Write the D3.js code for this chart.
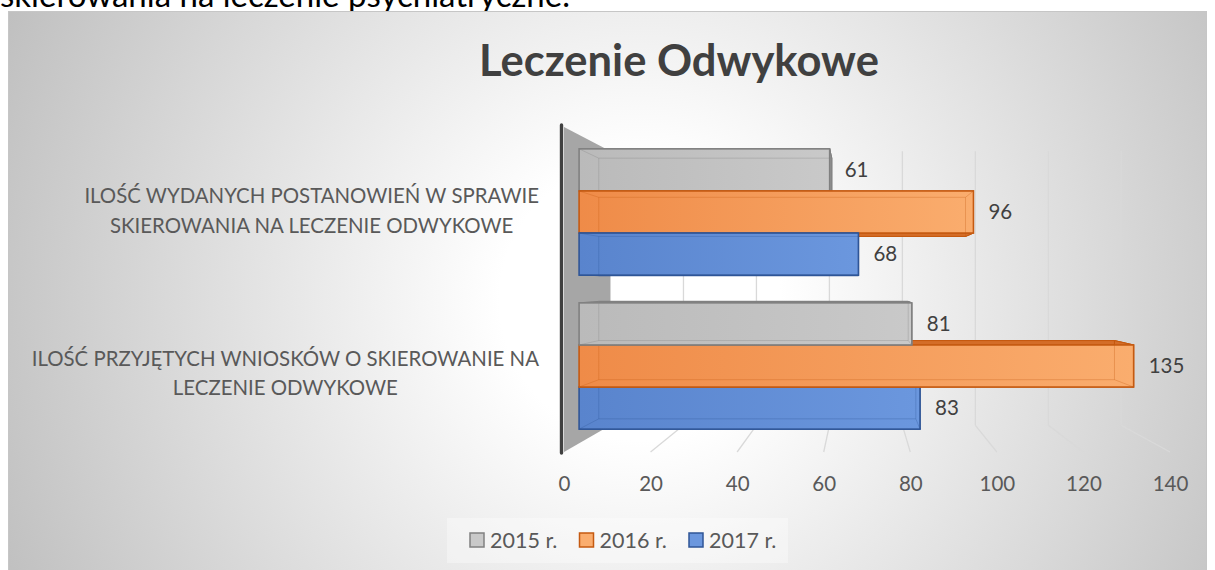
<!DOCTYPE html>
<html>
<head>
<meta charset="utf-8">
<script src="https://cdn.jsdelivr.net/npm/d3@7"></script>
<style>
  html, body { margin: 0; padding: 0; background: #fff; overflow: hidden; }
  svg { display: block; font-family: Lato, "Open Sans", sans-serif; }
</style>
</head>
<body>
<svg id="chart" width="1215" height="570"></svg>
<script>
// data
var pageText = "skierowania na leczenie psychiatryczne.";
var chartTitle = "Leczenie Odwykowe";
var categoryLines = [
    ["ILOŚĆ WYDANYCH POSTANOWIEŃ W SPRAWIE", "SKIEROWANIA NA LECZENIE ODWYKOWE"],
    ["ILOŚĆ PRZYJĘTYCH WNIOSKÓW O SKIEROWANIE NA", "LECZENIE ODWYKOWE"]
];
var seriesNames = ["2015 r.", "2016 r.", "2017 r."];
var values2015 = [61, 81];
var values2016 = [96, 135];
var values2017 = [68, 83];
var xTicks = [0, 20, 40, 60, 80, 100, 120, 140];

var seriesValues = [values2015, values2016, values2017];
var seriesFill = [["#bababa", "#c9c9c9"], ["#ef8b48", "#faad6e"], ["#5984cd", "#6b97de"]];
var seriesShade = ["#9c9c9c", "#d46d28", "#41689f"];
var seriesDark = ["#808080", "#c55a11", "#2f5597"];

var svg = d3.select("#chart");

// perspective: everything shrinks toward a vanishing point
var vp = [860, 282];
var project = function(p, s) {
    return [vp[0] + (p[0] - vp[0]) * s, vp[1] + (p[1] - vp[1]) * s];
};
var barPlane = 0.949, wallPlane = 0.843, barDepth = 0.93;
var ceilY = 127, floorY = 452;

var xFront = d3.scaleLinear().domain([0, 140]).range([564, 1170]);
var planeScale = function(s) {
    return d3.scaleLinear().domain(xFront.domain())
        .range(xFront.range().map(function(x) { return project([x, 0], s)[0]; }));
};
var xBar = planeScale(barPlane);
var xWall = planeScale(wallPlane);

var y = d3.scaleBand().domain(d3.range(categoryLines.length))
    .range([135, 443]).paddingInner(0.18).paddingOuter(0.09);
var ySeries = d3.scaleBand().domain(d3.range(seriesValues.length)).range([0, y.bandwidth()]);

// page text cut by the chart frame
svg.append("text")
    .attr("x", 0).attr("y", 7)
    .attr("fill", "#000")
    .style("font-size", "33px")
    .text(pageText);

var defs = svg.append("defs");
var bg = defs.append("radialGradient").attr("id", "bg")
    .attr("gradientUnits", "userSpaceOnUse")
    .attr("cx", 640).attr("cy", 300).attr("r", 700);
bg.append("stop").attr("offset", 0).attr("stop-color", "#ffffff");
bg.append("stop").attr("offset", 0.2).attr("stop-color", "#ffffff");
bg.append("stop").attr("offset", 1).attr("stop-color", "#bfbfbf");

seriesFill.forEach(function(c, i) {
    var lg = defs.append("linearGradient").attr("id", "fill" + i);
    lg.append("stop").attr("offset", 0).attr("stop-color", c[0]);
    lg.append("stop").attr("offset", 1).attr("stop-color", c[1]);
});

svg.append("rect")
    .attr("x", 8.5).attr("y", 11.5)
    .attr("width", 1198).attr("height", 580)
    .attr("fill", "url(#bg)")
    .attr("stroke", "#c6c6c6");

// title
svg.append("text")
    .attr("x", 679).attr("y", 76)
    .attr("text-anchor", "middle")
    .attr("fill", "#404040")
    .style("font-size", "43.5px").style("font-weight", "bold")
    .text(chartTitle);

// side wall
var wallTop = project([xFront(0), ceilY], wallPlane);
var wallBot = project([xFront(0), floorY], wallPlane);
svg.append("polygon")
    .attr("points", [[xFront(0), ceilY], wallTop, wallBot, [xFront(0), floorY]].join(" "))
    .attr("fill", "#a6a6a6");

// back wall and floor grid
var grid = svg.append("g").attr("class", "grid");
grid.selectAll(".wall-line")
    .data(xTicks.filter(function(d) { return d > 0; }))
  .enter()
    .append("line")
    .attr("class", "wall-line")
    .attr("x1", function(d) { return xWall(d); })
    .attr("x2", function(d) { return xWall(d); })
    .attr("y1", wallTop[1]).attr("y2", wallBot[1])
    .attr("stroke", "#d9d9d9").attr("stroke-width", 1.3);
grid.selectAll(".floor-line")
    .data(xTicks.filter(function(d) { return d > 0; }))
  .enter()
    .append("line")
    .attr("class", "floor-line")
    .attr("x1", function(d) { return xWall(d); })
    .attr("y1", wallBot[1])
    .attr("x2", function(d) { return xFront(d); })
    .attr("y2", floorY)
    .attr("stroke", "#d9d9d9").attr("stroke-width", 1.3);

// axis line at the wall's front edge
svg.append("line")
    .attr("x1", xFront(0) - 2.5).attr("x2", xFront(0) - 2.5)
    .attr("y1", ceilY - 2).attr("y2", floorY + 1)
    .attr("stroke", "#404040").attr("stroke-width", 3.4)
    .attr("stroke-linecap", "round");

// bars
var bars = [];
categoryLines.forEach(function(c, ci) {
    seriesValues.forEach(function(vals, si) {
        var y0 = y(ci) + ySeries(si);
        bars.push({ ci: ci, si: si, value: vals[ci],
            x0: xBar(0), x1: xBar(vals[ci]), y0: y0, y1: y0 + ySeries.bandwidth() });
    });
});
bars.sort(function(a, b) {
    return Math.abs((b.y0 + b.y1) / 2 - vp[1]) - Math.abs((a.y0 + a.y1) / 2 - vp[1]);
});

var renderBar = function(b) {
    var g = d3.select(this);
    var f = [[b.x0, b.y0], [b.x1, b.y0], [b.x1, b.y1], [b.x0, b.y1]];
    var k = f.map(function(p) { return project(p, barDepth); });
    var faces = [k, [f[0], f[1], k[1], k[0]], [f[1], f[2], k[2], k[1]], [f[3], f[2], k[2], k[3]]];
    g.selectAll(".face")
        .data(faces)
      .enter()
        .append("polygon")
        .attr("class", "face")
        .attr("points", function(d) { return d.join(" "); })
        .attr("fill", seriesShade[b.si])
        .attr("stroke", seriesDark[b.si]).attr("stroke-width", 1)
        .attr("stroke-linejoin", "round");
    g.append("rect")
        .attr("x", b.x0).attr("y", b.y0)
        .attr("width", b.x1 - b.x0).attr("height", b.y1 - b.y0)
        .attr("fill", "url(#fill" + b.si + ")")
        .attr("stroke", seriesDark[b.si]).attr("stroke-width", 1.6);
    // back edges seen through the face
    var edges = "M" + k.join("L") + "Z";
    f.forEach(function(p, i) { edges += "M" + p + "L" + k[i]; });
    g.append("path")
        .attr("d", edges)
        .attr("fill", "none")
        .attr("stroke", seriesDark[b.si]).attr("stroke-width", 1)
        .attr("opacity", 0.3);
};

svg.append("g").attr("class", "bars")
    .selectAll(".bar")
    .data(bars)
  .enter()
    .append("g")
    .attr("class", "bar")
    .each(renderBar);

// data labels
svg.append("g").attr("class", "labels")
    .selectAll("text")
    .data(bars)
  .enter()
    .append("text")
    .attr("x", function(d) { return d.x1 + 15; })
    .attr("y", function(d) { return (d.y0 + d.y1) / 2 + 7; })
    .attr("fill", "#404040")
    .style("font-size", "20.5px")
    .text(function(d) { return d.value; });

// value axis labels
var axis = svg.append("g")
    .attr("transform", "translate(0,476)")
    .call(d3.axisBottom(xFront).tickValues(xTicks).tickSize(0).tickPadding(0));
axis.select(".domain").remove();
axis.attr("font-family", null).attr("font-size", null);
axis.selectAll("text")
    .attr("fill", "#595959")
    .style("font-size", "20.5px");

// category labels, lines centred in a block right-aligned to the axis
var catRight = 539, lineGap = 29.5;
categoryLines.forEach(function(lines, ci) {
    var yc = y(ci) + y.bandwidth() / 2;
    var yFront = vp[1] + (yc - vp[1]) / barPlane + 3;
    var t = svg.append("g").attr("class", "category")
        .selectAll("text")
        .data(lines)
      .enter()
        .append("text")
        .attr("text-anchor", "middle")
        .attr("y", function(d, i) { return yFront + (i - (lines.length - 1) / 2) * lineGap + 7; })
        .attr("fill", "#595959")
        .style("font-size", "20.4px")
        .text(function(d) { return d; });
    var w = d3.max(t.nodes(), function(n) { return n.getComputedTextLength(); });
    t.attr("x", catRight - w / 2);
});

// legend
var legend = svg.append("g").attr("class", "legend");
legend.append("rect")
    .attr("x", 447).attr("y", 518).attr("width", 341).attr("height", 45)
    .attr("fill", "#ffffff").attr("opacity", 0.35);
var items = legend.selectAll(".item")
    .data(seriesNames)
  .enter()
    .append("g")
    .attr("class", "item")
    .attr("transform", function(d, i) { return "translate(" + (470 + i * 109.5) + ",533)"; });
items.append("rect")
    .attr("width", 14).attr("height", 14)
    .attr("fill", function(d, i) { return seriesFill[i][1]; })
    .attr("stroke", function(d, i) { return seriesDark[i]; })
    .attr("stroke-width", 1.5);
items.append("text")
    .attr("x", 20).attr("y", 14.5)
    .attr("fill", "#595959")
    .style("font-size", "21.5px")
    .text(function(d) { return d; });
</script>
</body>
</html>
